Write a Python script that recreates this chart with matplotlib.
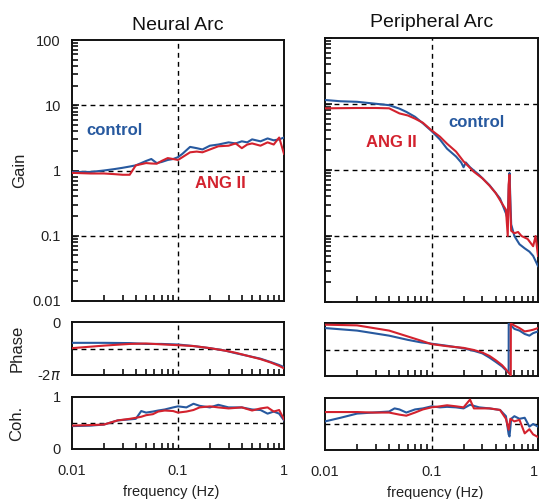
import numpy as np
import matplotlib
matplotlib.use("Agg")
import matplotlib.pyplot as plt
from matplotlib.ticker import LogLocator, NullFormatter

plt.rcParams["font.family"] = ["Liberation Sans", "DejaVu Sans"]
plt.rcParams["mathtext.fontset"] = "dejavusans"

BLUE = "#27599f"
RED = "#d3222e"

# ---- Neural arc ----
neural_gain_f = [0.01, 0.015, 0.02, 0.025, 0.03, 0.035, 0.04, 0.045, 0.05, 0.056,
                 0.063, 0.07, 0.08, 0.09, 0.1, 0.11, 0.13, 0.15, 0.17, 0.2, 0.24,
                 0.3, 0.35, 0.4, 0.45, 0.5, 0.6, 0.7, 0.8, 0.9, 1.0]
neural_gain_ctrl = [0.95, 0.95, 1.0, 1.05, 1.1, 1.15, 1.2, 1.3, 1.4, 1.5, 1.3, 1.35,
                    1.45, 1.5, 1.6, 1.8, 2.3, 2.2, 2.1, 2.4, 2.5, 2.7, 2.6, 2.8, 2.7,
                    3.0, 2.8, 3.1, 2.9, 3.0, 3.2]
neural_gain_ang = [0.92, 0.9, 0.9, 0.88, 0.86, 0.86, 1.2, 1.25, 1.3, 1.28, 1.27, 1.4,
                   1.55, 1.5, 1.45, 1.6, 1.9, 1.95, 1.9, 2.1, 2.35, 2.4, 2.6, 2.2, 2.5,
                   2.6, 2.4, 2.7, 2.5, 3.2, 1.8]

neural_phase_f = [0.01, 0.02, 0.035, 0.05, 0.07, 0.1, 0.14, 0.2, 0.28, 0.35, 0.45,
                  0.6, 0.75, 0.9, 1.0]
neural_phase_ctrl = [-2.47, -2.47, -2.5, -2.6, -2.6, -2.67, -2.85, -3.1, -3.4, -3.7,
                     -4.0, -4.35, -4.75, -5.1, -5.35]
neural_phase_ang = [-3.1, -2.8, -2.6, -2.55, -2.65, -2.75, -2.85, -3.1, -3.4, -3.65,
                    -4.0, -4.4, -4.8, -5.2, -5.5]

neural_coh_f = [0.01, 0.015, 0.02, 0.027, 0.035, 0.04, 0.045, 0.05, 0.058, 0.065,
                0.075, 0.09, 0.1, 0.12, 0.14, 0.16, 0.2, 0.24, 0.3, 0.4, 0.5, 0.6,
                0.7, 0.8, 0.9, 1.0]
neural_coh_ctrl = [0.44, 0.45, 0.47, 0.55, 0.57, 0.58, 0.73, 0.7, 0.72, 0.74, 0.76,
                   0.8, 0.82, 0.8, 0.87, 0.83, 0.8, 0.85, 0.8, 0.8, 0.76, 0.75, 0.68,
                   0.72, 0.68, 0.55]
neural_coh_ang = [0.45, 0.46, 0.47, 0.55, 0.58, 0.6, 0.62, 0.65, 0.67, 0.72, 0.74,
                  0.73, 0.7, 0.72, 0.75, 0.8, 0.82, 0.8, 0.78, 0.8, 0.74, 0.78, 0.8,
                  0.72, 0.75, 0.57]

# ---- Peripheral arc ----
periph_gain_f_ctrl = [0.01, 0.014, 0.02, 0.028, 0.04, 0.05, 0.058, 0.07, 0.083, 0.1,
                      0.12, 0.14, 0.17, 0.19, 0.2, 0.21, 0.23, 0.28, 0.35, 0.44, 0.5,
                      0.52, 0.53, 0.54, 0.56, 0.6, 0.67, 0.75, 0.83, 0.9, 1.0]
periph_gain_ctrl = [11.5, 11.0, 10.8, 10.2, 9.6, 8.5, 7.6, 6.4, 5.1, 3.9, 2.9, 2.1,
                    1.6, 1.3, 1.1, 1.3, 1.1, 0.84, 0.59, 0.37, 0.22, 0.18, 0.5, 0.9,
                    0.15, 0.1, 0.075, 0.065, 0.058, 0.05, 0.035]
periph_gain_f_ang = [0.01, 0.02, 0.03, 0.04, 0.05, 0.06, 0.07, 0.083, 0.1, 0.12, 0.14,
                     0.17, 0.2, 0.25, 0.3, 0.35, 0.4, 0.46, 0.5, 0.52, 0.53, 0.54,
                     0.55, 0.56, 0.6, 0.65, 0.7, 0.8, 0.9, 0.95, 1.0]
periph_gain_ang = [8.6, 8.7, 8.7, 8.6, 7.2, 6.7, 6.0, 5.2, 4.0, 3.2, 2.5, 1.9, 1.35,
                   0.94, 0.75, 0.58, 0.45, 0.31, 0.25, 0.1, 0.6, 0.85, 0.25, 0.12,
                   0.11, 0.115, 0.1, 0.09, 0.07, 0.1, 0.05]

periph_phase_f_ctrl = [0.01, 0.02, 0.04, 0.06, 0.08, 0.1, 0.14, 0.2, 0.25, 0.3, 0.35,
                       0.4, 0.46, 0.5, 0.53, 0.531, 0.56, 0.6, 0.67, 0.75, 0.83, 0.9,
                       1.0]
periph_phase_ctrl = [-0.6, -0.9, -1.5, -2.0, -2.3, -2.45, -2.7, -3.0, -3.3, -3.6,
                     -4.1, -4.6, -5.15, -5.6, -5.9, -0.05, -0.3, -0.7, -0.9, -1.3,
                     -1.5, -1.2, -1.0]
periph_phase_f_ang = [0.01, 0.02, 0.04, 0.06, 0.08, 0.1, 0.14, 0.2, 0.25, 0.3, 0.35,
                      0.4, 0.46, 0.5, 0.53, 0.555, 0.556, 0.6, 0.67, 0.75, 0.83, 0.9,
                      1.0]
periph_phase_ang = [-0.2, -0.28, -0.9, -1.6, -2.1, -2.5, -2.75, -2.95, -3.2, -3.5,
                    -3.9, -4.4, -5.0, -5.5, -5.9, -6.2, -0.05, -0.3, -0.6, -1.0,
                    -0.9, -0.8, -0.6]

periph_coh_f_ctrl = [0.01, 0.014, 0.02, 0.028, 0.04, 0.045, 0.05, 0.058, 0.07, 0.083,
                     0.1, 0.12, 0.14, 0.17, 0.2, 0.23, 0.28, 0.35, 0.44, 0.5, 0.53,
                     0.54, 0.56, 0.6, 0.67, 0.75, 0.83, 0.9, 1.0]
periph_coh_ctrl = [0.55, 0.62, 0.7, 0.72, 0.74, 0.8, 0.78, 0.72, 0.78, 0.8, 0.84,
                   0.82, 0.83, 0.82, 0.8, 0.87, 0.82, 0.8, 0.77, 0.65, 0.3, 0.26, 0.6,
                   0.65, 0.6, 0.62, 0.45, 0.5, 0.45]
periph_coh_f_ang = [0.01, 0.02, 0.028, 0.04, 0.05, 0.058, 0.07, 0.083, 0.1, 0.12,
                    0.14, 0.17, 0.2, 0.23, 0.25, 0.28, 0.35, 0.44, 0.5, 0.53, 0.55,
                    0.6, 0.67, 0.75, 0.83, 0.9, 1.0]
periph_coh_ang = [0.73, 0.73, 0.72, 0.72, 0.68, 0.66, 0.72, 0.78, 0.82, 0.84, 0.86,
                  0.84, 0.82, 0.97, 0.8, 0.8, 0.8, 0.77, 0.6, 0.39, 0.6, 0.55, 0.58,
                  0.32, 0.4, 0.3, 0.25]

W, H = 539, 499
fig = plt.figure(figsize=(W / 100, H / 100), dpi=100)


def px_axes(x0, y0, x1, y1):
    return fig.add_axes([x0 / W, 1 - y1 / H, (x1 - x0) / W, (y1 - y0) / H])


TICK_COLOR = "#222222"
FS = 10.5
LFS = 12


def style(ax, ylim, hgrid, ylog=False, left_ticks=False):
    ax.set_xscale("log")
    ax.set_xlim(0.01, 1)
    if ylog:
        ax.set_yscale("log")
    ax.set_ylim(*ylim)
    for s in ax.spines.values():
        s.set_linewidth(1.4)
        s.set_color("#111111")
    ax.axvline(0.1, color="k", lw=1.0, ls=(0, (3.5, 3)), zorder=1)
    for h in hgrid:
        ax.axhline(h, color="k", lw=1.0, ls=(0, (3.5, 3)), zorder=1)
    ax.xaxis.set_minor_locator(LogLocator(base=10, subs=np.arange(2, 10)))
    ax.xaxis.set_minor_formatter(NullFormatter())
    ax.tick_params(axis="x", which="both", direction="in", top=False,
                   labelbottom=False, width=1.2, color="#111111")
    ax.tick_params(axis="x", which="major", length=0)
    ax.tick_params(axis="x", which="minor", length=4)
    ax.tick_params(axis="y", which="both", direction="in", right=False,
                   labelleft=False, width=1.2, color="#111111",
                   labelsize=FS, labelcolor=TICK_COLOR, pad=8)
    if left_ticks:
        ax.tick_params(axis="y", which="major", length=5)
        ax.tick_params(axis="y", which="minor", length=4)
    else:
        ax.tick_params(axis="y", which="both", length=0)


# axes positions (pixels)
gain_l = px_axes(72, 40, 284, 301)
gain_r = px_axes(325, 38, 538, 302)
phase_l = px_axes(72, 322, 284, 375)
phase_r = px_axes(325, 323, 538, 376)
coh_l = px_axes(72, 397, 284, 449)
coh_r = px_axes(325, 398, 538, 450)

for ax in (gain_l, gain_r):
    style(ax, (0.01, 100), [10, 1, 0.1], ylog=True, left_ticks=True)
    ax.yaxis.set_minor_locator(LogLocator(base=10, subs=np.arange(2, 10)))
    ax.yaxis.set_minor_formatter(NullFormatter())
gain_l.tick_params(axis="y", labelleft=True)
gain_l.set_yticks([0.01, 0.1, 1, 10, 100])
gain_l.set_yticklabels(["0.01", "0.1", "1", "10", "100"])

for ax in (phase_l, phase_r):
    style(ax, (-2 * np.pi, 0), [-np.pi])
phase_l.set_yticks([-2 * np.pi, 0])
phase_l.set_yticklabels([r"-2$\pi$", "0"])
phase_l.tick_params(axis="y", labelleft=True)

for ax in (coh_l, coh_r):
    style(ax, (0, 1), [0.5])
    ax.tick_params(axis="x", labelbottom=True, labelsize=FS,
                   labelcolor=TICK_COLOR, pad=11)
    ax.set_xticks([0.01, 0.1, 1])
    ax.set_xticklabels(["0.01", "0.1", "1"])
    ax.set_xlabel("frequency (Hz)", fontsize=FS, color=TICK_COLOR, labelpad=0)
coh_r.get_xticklabels()[-1].set_horizontalalignment("right")
coh_l.xaxis.set_label_coords(0.467, -0.7)
coh_r.xaxis.set_label_coords(0.516, -0.7)
coh_l.set_yticks([0, 1])
coh_l.set_yticklabels(["0", "1"])
coh_l.tick_params(axis="y", labelleft=True)

gain_l.set_ylabel("Gain", fontsize=LFS, color=TICK_COLOR)
gain_l.yaxis.set_label_coords(-0.21, 0.5)
phase_l.set_ylabel("Phase", fontsize=LFS, color=TICK_COLOR)
phase_l.yaxis.set_label_coords(-0.225, 0.5)
coh_l.set_ylabel("Coh.", fontsize=LFS, color=TICK_COLOR)
coh_l.yaxis.set_label_coords(-0.225, 0.5)

gain_l.set_title("Neural Arc", fontsize=14, color="#111111", pad=7)
gain_r.set_title("Peripheral Arc", fontsize=14, color="#111111", pad=8)

LW = 1.5
gain_l.plot(neural_gain_f, neural_gain_ctrl, color=BLUE, lw=LW, zorder=3)
gain_l.plot(neural_gain_f, neural_gain_ang, color=RED, lw=LW, zorder=4)
phase_l.plot(neural_phase_f, neural_phase_ctrl, color=BLUE, lw=LW, zorder=3)
phase_l.plot(neural_phase_f, neural_phase_ang, color=RED, lw=LW, zorder=4)
coh_l.plot(neural_coh_f, neural_coh_ctrl, color=BLUE, lw=LW, zorder=3)
coh_l.plot(neural_coh_f, neural_coh_ang, color=RED, lw=LW, zorder=4)

gain_r.plot(periph_gain_f_ctrl, periph_gain_ctrl, color=BLUE, lw=LW, zorder=3)
gain_r.plot(periph_gain_f_ang, periph_gain_ang, color=RED, lw=LW, zorder=4)
phase_r.plot(periph_phase_f_ctrl, periph_phase_ctrl, color=BLUE, lw=LW, zorder=3)
phase_r.plot(periph_phase_f_ang, periph_phase_ang, color=RED, lw=LW, zorder=4)
coh_r.plot(periph_coh_f_ctrl, periph_coh_ctrl, color=BLUE, lw=LW, zorder=3)
coh_r.plot(periph_coh_f_ang, periph_coh_ang, color=RED, lw=LW, zorder=4)

TFS = 12
gain_l.text(0.0254, 4.05, "control", color=BLUE, fontsize=TFS, fontweight="bold",
            ha="center", va="center")
gain_l.text(0.249, 0.64, "ANG II", color=RED, fontsize=TFS, fontweight="bold",
            ha="center", va="center")
gain_r.text(0.262, 5.3, "control", color=BLUE, fontsize=TFS, fontweight="bold",
            ha="center", va="center")
gain_r.text(0.0417, 2.65, "ANG II", color=RED, fontsize=TFS, fontweight="bold",
            ha="center", va="center")

fig.savefig("out.png", dpi=100)
